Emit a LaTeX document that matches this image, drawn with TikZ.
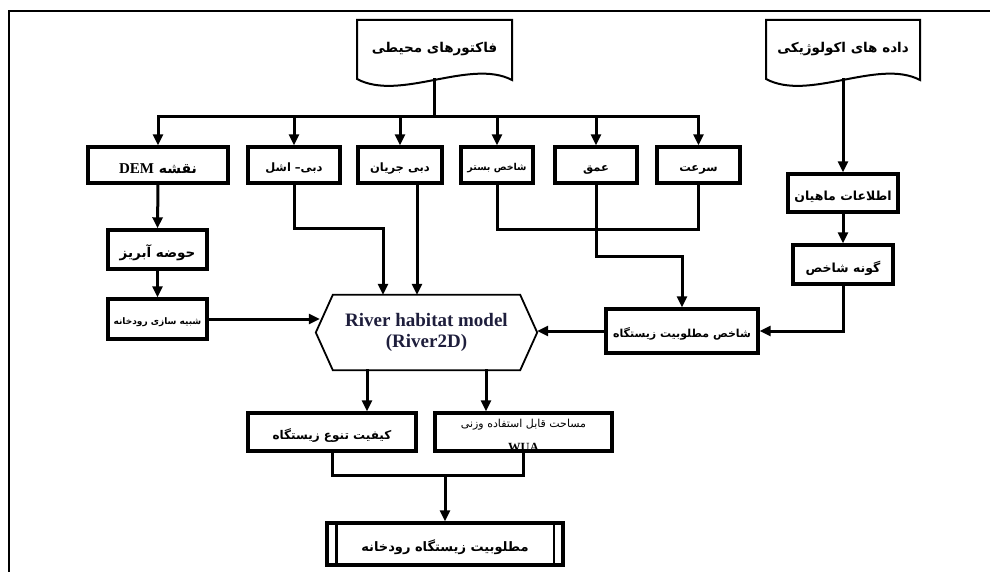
\documentclass[tikz,border=0pt]{standalone}
\usepackage{fontspec}
\setmainfont{Liberation Serif}
\newfontfamily\fa[Script=Arabic]{DejaVu Sans}
\TeXXeTstate=1
\usetikzlibrary{arrows.meta,calc}
\newcommand\fatxt[1]{\raisebox{-0.6em}[0pt][0pt]{\fa\bfseries\beginR #1\endR}}
\definecolor{navy}{RGB}{30,30,60}
\begin{document}
\begin{tikzpicture}[x=1pt,y=-1pt,
  box/.style={draw,line width=3.4pt,inner sep=1pt,align=center,font=\fontsize{11.5}{13}\selectfont},
  ln/.style={line width=3pt,line cap=rect},
  arr/.style={ln,-{Triangle[length=11pt,width=10pt]}},
  doc/.style={draw,line width=2pt,line join=miter}]
\useasboundingbox (0,0) rectangle (990,572);
\draw[line width=1.8pt] (9,572) -- (9,11) -- (990,11);

% documents
\draw[doc] (357,20) -- (512,20) -- (512,80) .. controls (470,58) and (400,102) .. (357,79) -- cycle;
\node[font=\fontsize{13.5}{15}\selectfont] (d1) at (434.5,44) {\fatxt{فاکتورهای محیطی}};
\coordinate (d1b) at (434.5,80);
\draw[doc] (766,20) -- (920,20) -- (920,80) .. controls (878,58) and (809,102) .. (766,79) -- cycle;
\node[font=\fontsize{13.5}{15}\selectfont] (d2) at (843,44) {\fatxt{داده های اکولوژیکی}};
\coordinate (d2b) at (843,80);

% row of boxes
\node[box,minimum width=140pt,minimum height=36pt,font=\fontsize{14}{15}\selectfont] (dem) at (158,165) {\fatxt{نقشه \beginL{\rmfamily\fontsize{15}{15}\selectfont DEM}\endL}};
\node[box,minimum width=92pt,minimum height=36pt] (dbe) at (294,165) {\fatxt{دبی– اشل}};
\node[box,minimum width=84pt,minimum height=36pt] (dbj) at (400,165) {\fatxt{دبی جریان}};
\node[box,minimum width=72pt,minimum height=36pt,font=\fontsize{9.5}{11}\selectfont] (bst) at (497,165) {\fatxt{شاخص بستر}};
\node[box,minimum width=82pt,minimum height=36pt] (omq) at (596,165) {\fatxt{عمق}};
\node[box,minimum width=83pt,minimum height=36pt] (sor) at (698.5,165) {\fatxt{سرعت}};

\node[box,minimum width=99pt,minimum height=39pt,font=\fontsize{13.5}{15}\selectfont] (hoz) at (157.5,249.5) {\fatxt{حوضه آبریز}};
\node[box,minimum width=99pt,minimum height=40pt,font=\fontsize{9}{11}\selectfont] (sim) at (157.5,319) {\fatxt{شبیه سازی رودخانه}};

\node[box,minimum width=110pt,minimum height=38pt,font=\fontsize{12.5}{14}\selectfont] (mah) at (843,193) {\fatxt{اطلاعات ماهیان}};
\node[box,minimum width=100pt,minimum height=39pt,font=\fontsize{12.5}{14}\selectfont] (gon) at (843,264.5) {\fatxt{گونه شاخص}};
\node[box,minimum width=152pt,minimum height=44pt,font=\fontsize{11}{13}\selectfont] (shm) at (682,331) {\fatxt{شاخص مطلوبیت زیستگاه}};

% hexagon
\node[inner sep=0pt,minimum width=221pt,minimum height=75pt,align=center,text=navy,
  font=\bfseries\fontsize{19}{21}\selectfont] (hex) at (426.5,332.5) {River habitat model\\(River2D)};
\draw[line width=1.8pt] (hex.west) -- ($(hex.north west)+(17,0)$) -- ($(hex.north east)+(-17,0)$)
  -- (hex.east) -- ($(hex.south east)+(-17,0)$) -- ($(hex.south west)+(17,0)$) -- cycle;

\node[box,minimum width=168pt,minimum height=38pt,font=\fontsize{12}{14}\selectfont] (kif) at (332,432) {\fatxt{کیفیت تنوع زیستگاه}};
\node[box,minimum width=177pt,minimum height=38pt,font=\fontsize{11}{12}\selectfont,
  label={[anchor=center,yshift=5pt,font=\bfseries\fontsize{12.5}{13}\selectfont]south:WUA}] (mas) at (523.5,432)
  {\raisebox{4.5pt}[0pt][0pt]{\fa\beginR مساحت قابل استفاده وزنی\endR}};
\node[box,minimum width=236pt,minimum height=42pt,font=\fontsize{13}{15}\selectfont] (mot) at (445,544) {\fatxt{مطلوبیت زیستگاه رودخانه}};
\draw[line width=2.4pt] ($(mot.north west)+(11,0)$) -- ($(mot.south west)+(11,0)$);
\draw[line width=2.4pt] ($(mot.north east)+(-11,0)$) -- ($(mot.south east)+(-11,0)$);

% connectors
\coordinate (bus) at (434.5,117);
\draw[ln] (d1b) -- (bus);
\draw[ln] (dem.north |- bus) -- (sor.north |- bus);
\foreach \n in {dem,dbe,dbj,bst,omq,sor} \draw[arr] (\n.north |- bus) -- (\n.north);
\draw[arr] (d2b) -- (mah.north);
\draw[arr] (mah.south) -- (gon.north);
\draw[arr] (gon.south) |- (shm.east);
\draw[arr] (shm.west) -- (shm.west -| hex.east);
\coordinate (jy1) at (0,229);
\draw[ln] (bst.south) -- (bst.south |- jy1) -| (sor.south);
\coordinate (jy2) at (0,256);
\draw[arr] (omq.south) -- (omq.south |- jy2) -| (shm.north);
\coordinate (jy3) at (0,228);
\coordinate (h1) at ($(hex.north)+(-43.5,0)$);
\draw[arr] (dbe.south) -- (dbe.south |- jy3) -| (h1);
\coordinate (dbjb) at ($(dbj.south)+(17,0)$);
\draw[arr] (dbjb) -- (dbjb |- hex.north);
\draw[arr] (dem.south) -- (hoz.north);
\draw[arr] (hoz.south) -- (sim.north);
\draw[arr,shorten >=-4pt] (sim.east) -- (sim.east -| hex.west);
\coordinate (hb1) at ($(hex.south)+(-59.5,0)$);
\coordinate (hb2) at ($(hex.south)+(59.5,0)$);
\draw[arr] (hb1) -- (hb1 |- kif.north);
\draw[arr] (hb2) -- (hb2 |- mas.north);
\coordinate (jy4) at (0,475);
\draw[ln] (kif.south) -- (kif.south |- jy4) -| (mas.south);
\draw[arr] (mot.north |- jy4) -- (mot.north);
\end{tikzpicture}
\end{document}
